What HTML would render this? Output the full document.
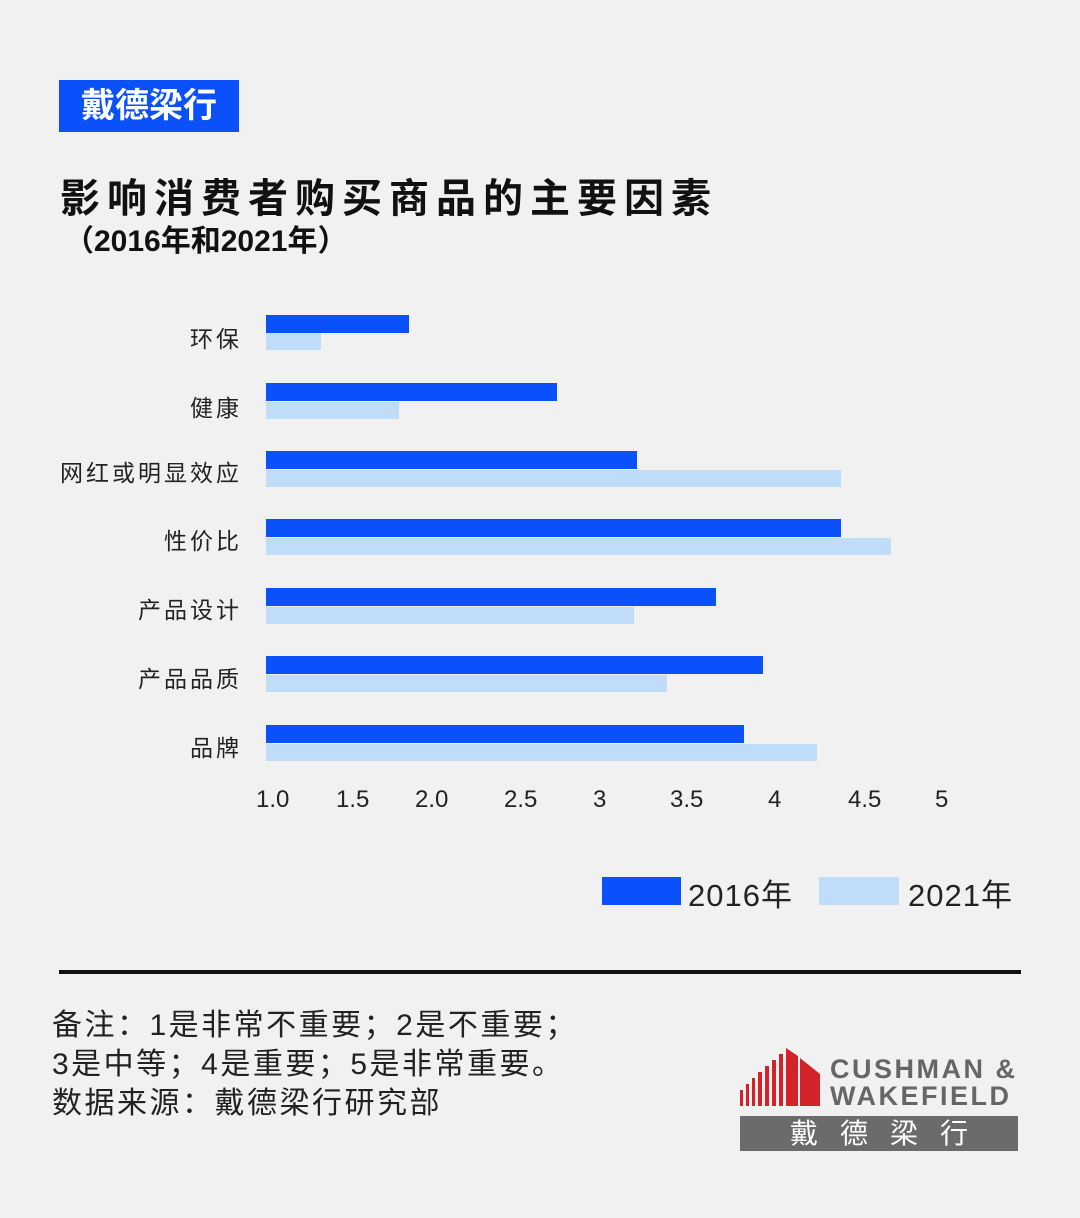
<!DOCTYPE html>
<html><head><meta charset="utf-8"><style>
body{margin:0;width:1080px;height:1218px;background:#f1f1f1;position:relative;overflow:hidden;font-family:"Liberation Sans","Noto Sans CJK SC",sans-serif;color:#111}
.a{position:absolute}
.d{position:absolute;left:266px;height:18px;background:#0a50fb}
.l{position:absolute;left:266px;height:17px;background:#bfdcf8}
.lab{position:absolute;right:838px;font-size:23px;color:#222;white-space:nowrap;letter-spacing:3px}
.t{position:absolute;top:786px;font-size:24px;color:#222}
</style></head><body>
<div class="a" style="left:59px;top:80px;width:180px;height:52px;background:#0a50fb;color:#fff;font-size:34px;font-weight:bold;line-height:52px;text-align:center">戴德梁行</div>
<div class="a" style="left:60px;top:166px;font-size:40px;font-weight:bold;letter-spacing:7px">影响消费者购买商品的主要因素</div>
<div class="a" style="left:64px;top:216px;font-size:30px;font-weight:bold">（2016年和2021年）</div>

<div class="lab" style="top:320px">环保</div>
<div class="lab" style="top:389px">健康</div>
<div class="lab" style="top:454px">网红或明显效应</div>
<div class="lab" style="top:522px">性价比</div>
<div class="lab" style="top:591px">产品设计</div>
<div class="lab" style="top:660px">产品品质</div>
<div class="lab" style="top:729px">品牌</div>

<div class="d" style="top:315px;width:143px"></div><div class="l" style="top:333px;width:55px"></div>
<div class="d" style="top:383px;width:291px"></div><div class="l" style="top:402px;width:133px"></div>
<div class="d" style="top:451px;width:371px"></div><div class="l" style="top:470px;width:575px"></div>
<div class="d" style="top:519px;width:575px"></div><div class="l" style="top:538px;width:625px"></div>
<div class="d" style="top:588px;width:450px"></div><div class="l" style="top:607px;width:368px"></div>
<div class="d" style="top:656px;width:497px"></div><div class="l" style="top:675px;width:401px"></div>
<div class="d" style="top:725px;width:478px"></div><div class="l" style="top:744px;width:551px"></div>

<div class="t" style="left:256px">1.0</div>
<div class="t" style="left:336px">1.5</div>
<div class="t" style="left:415px">2.0</div>
<div class="t" style="left:504px">2.5</div>
<div class="t" style="left:593px">3</div>
<div class="t" style="left:670px">3.5</div>
<div class="t" style="left:768px">4</div>
<div class="t" style="left:848px">4.5</div>
<div class="t" style="left:935px">5</div>

<div class="a" style="left:602px;top:877px;width:79px;height:28px;background:#0a50fb"></div>
<div class="a" style="left:688px;top:870px;font-size:31px;color:#222;letter-spacing:1px">2016年</div>
<div class="a" style="left:819px;top:877px;width:80px;height:28px;background:#bfdcf8"></div>
<div class="a" style="left:908px;top:870px;font-size:31px;color:#222;letter-spacing:1px">2021年</div>

<div class="a" style="left:59px;top:970px;width:962px;height:4px;background:#111"></div>

<div class="a" style="left:52px;top:1006px;font-size:30px;line-height:39px;color:#222;letter-spacing:2.5px">备注：1是非常不重要；2是不重要；<br>3是中等；4是重要；5是非常重要。<br>数据来源：戴德梁行研究部</div>

<svg class="a" style="left:738px;top:1046px" width="86" height="62" viewBox="0 0 86 62">
<g fill="#d3222a">
<rect x="2" y="44" width="3" height="16"/><rect x="8" y="38" width="3" height="22"/><rect x="14" y="32" width="3" height="28"/><rect x="20" y="26" width="4" height="34"/><rect x="27" y="20" width="4" height="40"/><rect x="34" y="14" width="4" height="46"/><rect x="41" y="8" width="4" height="52"/>
<polygon points="48,2 60,10 60,60 48,60"/><polygon points="62,12 82,28 82,60 62,60"/></g></svg>
<div class="a" style="left:830px;top:1056px;font-size:27px;font-weight:bold;color:#666;line-height:27px;letter-spacing:2.5px">CUSHMAN &amp;<br>WAKEFIELD</div>
<div class="a" style="left:740px;top:1116px;width:278px;height:35px;background:#6b6b6b;color:#fff;font-size:28px;line-height:35px;text-align:center;letter-spacing:22px;text-indent:22px">戴德梁行</div>
</body></html>
